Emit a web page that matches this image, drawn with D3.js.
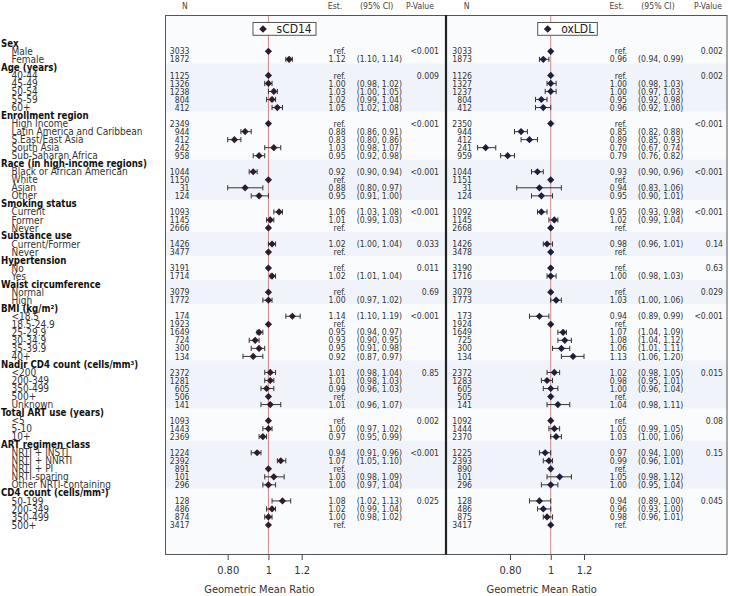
<!DOCTYPE html>
<html><head><meta charset="utf-8">
<script src="https://cdn.jsdelivr.net/npm/d3@7"></script>
<style>
body{margin:0;background:#fff}
text{font-family:"DejaVu Sans Condensed","DejaVu Sans",sans-serif;font-stretch:condensed;fill:#333}
</style>
</head><body><svg id="c" width="729" height="596"></svg>
<script>
// ---------- DATA ----------
const groupNames = ["Sex","Age (years)","Enrollment region","Race (in high-income regions)","Smoking status",
  "Substance use","Hypertension","Waist circumference","BMI (kg/m\u00B2)","Nadir CD4 count (cells/mm\u00B3)",
  "Total ART use (years)","ART regimen class","CD4 count (cells/mm\u00B3)"];
const groupLevels = [
  ["Male","Female"],
  ["40-44","45-49","50-54","55-59","60+"],
  ["High Income","Latin America and Caribbean","S.East/East Asia","South Asia","Sub-Saharan Africa"],
  ["Black or African American","White","Asian","Other"],
  ["Current","Former","Never"],
  ["Current/Former","Never"],
  ["No","Yes"],
  ["Normal","High"],
  ["<18.5","18.5-24.9","25-29.9","30-34.9","35-39.9","40+"],
  ["<200","200-349","350-499","500+","Unknown"],
  ["<5","5-10","10+"],
  ["NRTI + INSTI","NRTI + NNRTI","NRTI + PI","NRTI-sparing","Other NRTI-containing"],
  ["50-199","200-349","350-499","500+"]
];
// sCD14 (null = reference level)
const sCD14_N   = [[3033,1872],[1125,1326,1238,804,412],[2349,944,412,242,958],[1044,1150,31,124],[1093,1145,2666],[1426,3477],[3191,1714],[3079,1772],[174,1923,1649,724,300,134],[2372,1281,605,506,141],[1093,1443,2369],[1224,2392,891,101,296],[128,486,874,3417]];
const sCD14_est = [[null,1.12],[null,1.00,1.03,1.02,1.05],[null,0.88,0.83,1.03,0.95],[0.92,null,0.88,0.95],[1.06,1.01,null],[1.02,null],[null,1.02],[null,1.00],[1.14,null,0.95,0.93,0.95,0.92],[1.01,1.01,0.99,null,1.01],[null,1.00,0.97],[0.94,1.07,null,1.03,1.00],[1.08,1.02,1.00,null]];
const sCD14_lo  = [[null,1.10],[null,0.98,1.00,0.99,1.02],[null,0.86,0.80,0.98,0.92],[0.90,null,0.80,0.91],[1.03,0.99,null],[1.00,null],[null,1.01],[null,0.97],[1.10,null,0.94,0.90,0.91,0.87],[0.98,0.98,0.96,null,0.96],[null,0.97,0.95],[0.91,1.05,null,0.98,0.97],[1.02,0.99,0.98,null]];
const sCD14_hi  = [[null,1.14],[null,1.02,1.05,1.04,1.08],[null,0.91,0.86,1.07,0.98],[0.94,null,0.97,1.00],[1.08,1.03,null],[1.04,null],[null,1.04],[null,1.02],[1.19,null,0.97,0.95,0.98,0.97],[1.04,1.03,1.03,null,1.07],[null,1.02,0.99],[0.96,1.10,null,1.09,1.04],[1.13,1.04,1.02,null]];
const sCD14_p   = ["<0.001","0.009","<0.001","<0.001","<0.001","0.033","0.011","0.69","<0.001","0.85","0.002","<0.001","0.025"];
// oxLDL
const oxLDL_N   = [[3033,1873],[1126,1327,1237,804,412],[2350,944,412,241,959],[1044,1151,31,124],[1092,1145,2668],[1426,3478],[3190,1716],[3079,1773],[173,1924,1649,725,300,134],[2372,1283,605,505,141],[1092,1444,2370],[1225,2393,890,101,296],[128,486,875,3417]];
const oxLDL_est = [[null,0.96],[null,1.00,1.00,0.95,0.96],[null,0.85,0.89,0.70,0.79],[0.93,null,0.94,0.95],[0.95,1.02,null],[0.98,null],[null,1.00],[null,1.03],[0.94,null,1.07,1.08,1.06,1.13],[1.02,0.98,1.00,null,1.04],[null,1.02,1.03],[0.97,0.99,null,1.05,1.00],[0.94,0.96,0.98,null]];
const oxLDL_lo  = [[null,0.94],[null,0.98,0.97,0.92,0.92],[null,0.82,0.85,0.67,0.76],[0.90,null,0.83,0.90],[0.93,0.99,null],[0.96,null],[null,0.98],[null,1.00],[0.89,null,1.04,1.04,1.01,1.06],[0.98,0.95,0.96,null,0.98],[null,0.99,1.00],[0.94,0.96,null,0.98,0.95],[0.89,0.93,0.96,null]];
const oxLDL_hi  = [[null,0.99],[null,1.03,1.03,0.98,1.00],[null,0.88,0.93,0.74,0.82],[0.96,null,1.06,1.01],[0.98,1.04,null],[1.01,null],[null,1.03],[null,1.06],[0.99,null,1.09,1.12,1.11,1.20],[1.05,1.01,1.04,null,1.11],[null,1.05,1.06],[1.00,1.01,null,1.12,1.04],[1.00,1.00,1.01,null]];
const oxLDL_p   = ["0.002","0.002","<0.001","<0.001","<0.001","0.14","0.63","0.029","<0.001","0.015","0.08","0.15","0.045"];
const tickValues = [0.8, 1, 1.2];
const tickLabels = ["0.80","1","1.2"];
const headerLabels = ["N","Est.","(95% CI)","P-Value"];
const axisTitle = "Geometric Mean Ratio";

// ---------- BUILD ROWS ----------
const rows = [];
groupNames.forEach((g,gi)=>{
  rows.push({type:"head", label:g, g:gi});
  groupLevels[gi].forEach((lv,li)=>rows.push({type:"lvl", label:lv, g:gi, li}));
});
const svg = d3.select("#c");
const y = d3.scalePoint().domain(d3.range(rows.length)).range([43.3, 525]);
const yTop = 15, yBot = 554;

const panels = [
  {name:"sCD14", N:sCD14_N, est:sCD14_est, lo:sCD14_lo, hi:sCD14_hi, p:sCD14_p,
   x0:165, x1:446, x:d3.scaleLog().domain([0.8,1.2]).range([227.7,301.7]),
   nX:189.5, estX:345.7, ciX:356.7, pX:439, hdr:[185,335,376.7,420], legX:253, legW:63, mk:"#2e1b2c"},
  {name:"oxLDL", N:oxLDL_N, est:oxLDL_est, lo:oxLDL_lo, hi:oxLDL_hi, p:oxLDL_p,
   x0:446, x1:727, x:d3.scaleLog().domain([0.8,1.2]).range([510,584]),
   nX:472, estX:627, ciX:638, pX:723, hdr:[466.7,616.7,658,708], legX:537.7, legW:59.6, mk:"#1e1e3c"}
];
const f2 = d3.format(".2f");

// panel backgrounds + group bands
panels.forEach(P=>{
  svg.append("rect").attr("x",P.x0).attr("y",yTop).attr("width",P.x1-P.x0).attr("height",yBot-yTop).attr("fill","#f9fbfd");
  groupNames.forEach((g,gi)=>{
    if(gi%2===1){
      const idx = rows.map((r,i)=>r.g===gi?i:-1).filter(i=>i>=0);
      svg.append("rect").attr("x",P.x0).attr("width",P.x1-P.x0)
        .attr("y",y(idx[0])-4).attr("height",y(idx[idx.length-1])-y(idx[0])+8).attr("fill","#f0f4fa");
    }
  });
});

// labels column
rows.forEach((r,i)=>{
  svg.append("text").attr("x", r.type==="head"?1:11.5).attr("y",y(i)).attr("dy","0.36em")
    .style("font-size", r.type==="head"?"9.6px":"10px")
    .style("font-weight", r.type==="head"?"bold":"normal")
    .style("fill", r.type==="head"?"#111":"#333")
    .text(r.label);
});

panels.forEach(P=>{
  const x = P.x;
  headerLabels.forEach((h,k)=>{
    svg.append("text").attr("x",P.hdr[k]).attr("y",6).attr("dy","0.36em").attr("text-anchor","middle")
      .style("font-size","8.6px").style("fill","#444").text(h);
  });
  svg.append("line").attr("x1",x(1)).attr("x2",x(1)).attr("y1",yTop).attr("y2",yBot)
    .attr("stroke","#cc8a8a").attr("stroke-width",1);
  svg.append("rect").attr("x",P.legX).attr("y",22.5).attr("width",P.legW).attr("height",12.8)
    .attr("fill","#fff").attr("stroke","#555").attr("stroke-width",1);
  svg.append("path").attr("d","M0,-3.8L3.8,0L0,3.8L-3.8,0Z").attr("transform",`translate(${P.legX+10},29)`).attr("fill",P.mk);
  svg.append("text").attr("x",P.legX+23.5).attr("y",29).attr("dy","0.36em").style("font-size","12px").style("fill","#222").text(P.name);

  rows.forEach((r,i)=>{
    if(r.type!=="lvl") return;
    const yy = y(i), g=r.g, li=r.li;
    const n = P.N[g][li], e = P.est[g][li], lo=P.lo[g][li], hi=P.hi[g][li];
    svg.append("text").attr("x",P.nX).attr("y",yy).attr("dy","0.36em").attr("text-anchor","end").style("font-size","8.6px").text(n);
    svg.append("text").attr("x",P.estX).attr("y",yy).attr("dy","0.36em").attr("text-anchor","end").style("font-size","8.6px").text(e===null?"ref.":f2(e));
    if(e!==null){
      svg.append("text").attr("x",P.ciX).attr("y",yy).attr("dy","0.36em").style("font-size","8.6px").text(`(${f2(lo)}, ${f2(hi)})`);
      const gE = svg.append("g").attr("stroke","#333").attr("stroke-width",1);
      gE.append("line").attr("x1",x(lo)).attr("x2",x(hi)).attr("y1",yy).attr("y2",yy);
      gE.append("line").attr("x1",x(lo)).attr("x2",x(lo)).attr("y1",yy-2.6).attr("y2",yy+2.6);
      gE.append("line").attr("x1",x(hi)).attr("x2",x(hi)).attr("y1",yy-2.6).attr("y2",yy+2.6);
    }
    svg.append("path").attr("d","M0,-3.6L3.6,0L0,3.6L-3.6,0Z")
      .attr("transform",`translate(${x(e===null?1:e)},${yy})`).attr("fill",P.mk);
    if(li===0){
      svg.append("text").attr("x",P.pX).attr("y",yy).attr("dy","0.36em").attr("text-anchor","end").style("font-size","8.6px").text(P.p[g]);
    }
  });

  const ax = svg.append("g").attr("transform",`translate(0,${yBot})`)
    .call(d3.axisBottom(x).tickValues(tickValues).tickFormat((d,i)=>tickLabels[i]).tickSize(6).tickPadding(6));
  ax.select(".domain").remove();
  ax.selectAll(".tick line").attr("stroke","#444");
  ax.selectAll(".tick text").style("font-size","11px").style("fill","#333")
    .style("font-family",'"DejaVu Sans Condensed","DejaVu Sans",sans-serif');
  svg.append("text").attr("x",x(1)-9).attr("y",589.5).attr("dy","0.36em").attr("text-anchor","middle")
    .style("font-size","11px").text(axisTitle);
});

svg.append("rect").attr("x",165.5).attr("y",yTop+0.5).attr("width",727-165.5).attr("height",yBot-yTop).attr("fill","none").attr("stroke","#555").attr("stroke-width",1);
svg.append("line").attr("x1",446).attr("x2",446).attr("y1",yTop).attr("y2",yBot+0.5).attr("stroke","#222").attr("stroke-width",2.2);
</script>
</body></html>
